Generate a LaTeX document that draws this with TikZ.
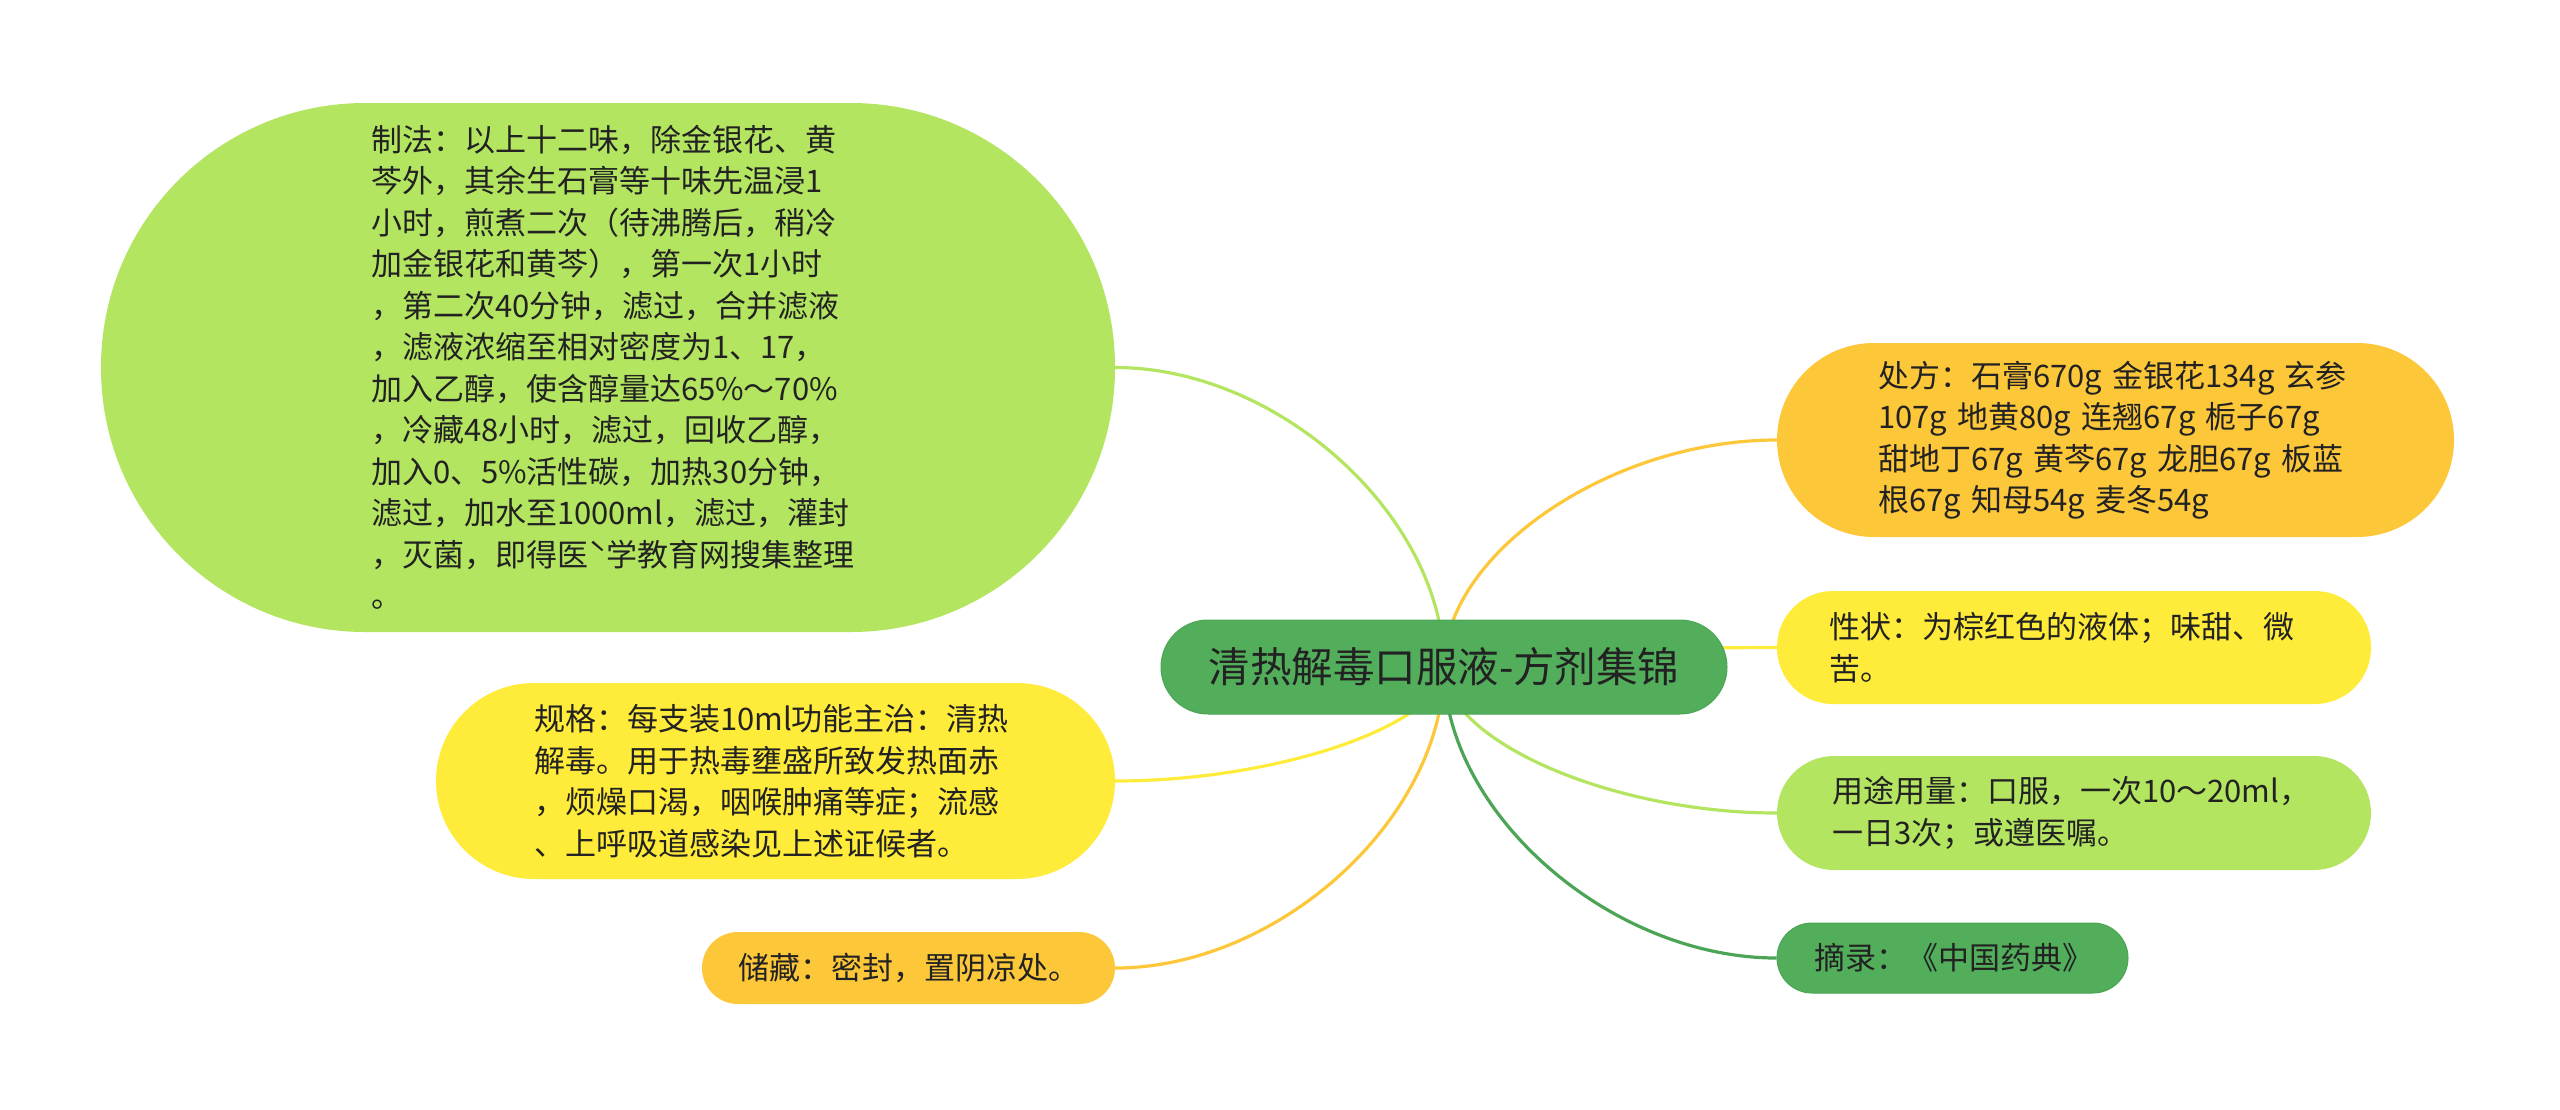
\documentclass[tikz,border=0pt]{standalone}
\usepackage{fontspec}
\setmainfont{Noto Sans CJK SC}
\usetikzlibrary{calc,backgrounds}
\definecolor{cgreen}{HTML}{52AE5B}
\definecolor{dgreen}{HTML}{4CA556}
\definecolor{lgreen}{HTML}{B3E561}
\definecolor{orng}{HTML}{FDC73A}
\definecolor{yllw}{HTML}{FFEB3A}
\definecolor{txt}{HTML}{222222}
\newcommand\mylink[3]{%
  \coordinate (p0) at (ctr.center);
  \coordinate (p3) at (#2.#3);
  \coordinate (pk) at (p0|-p3);
  \draw[conn=#1] (p0) .. controls ($(p0)!0.5!(pk)$) and ($(p3)!0.5!(pk)$) .. (p3);}
\begin{document}
\begin{tikzpicture}[x=1pt,y=-1pt,
  box/.style={rectangle, rounded corners=#1, text=txt, align=left, inner ysep=0pt,
    font=\fontsize{31}{41.5}\selectfont},
  conn/.style={draw=#1, line width=3.2pt},
]
\useasboundingbox (0,0) rectangle (2560,1109);

\node[box=47pt, fill=cgreen, draw=dgreen, line width=1pt, minimum width=566pt, minimum height=94pt,
  align=center, font=\fontsize{41.5}{41.5}\selectfont] (ctr) at (1444,667) {清热解毒口服液-方剂集锦};

\node[box=264pt, fill=lgreen, minimum width=1014pt, minimum height=529pt,
  inner xsep=270pt, text width=474pt] (zf) at (608,367.5)
  {制法：以上十二味，除金银花、黄\\芩外，其余生石膏等十味先温浸1\\小时，煎煮二次（待沸腾后，稍冷\\加金银花和黄芩），第一次1小时\\，第二次40分钟，滤过，合并滤液\\，滤液浓缩至相对密度为1、17，\\加入乙醇，使含醇量达65\%～70\%\\，冷藏48小时，滤过，回收乙醇，\\加入0、5\%活性碳，加热30分钟，\\滤过，加水至1000ml，滤过，灌封\\，灭菌，即得医ˋ学教育网搜集整理\\。};

\node[box=98pt, fill=yllw, minimum width=679pt, minimum height=196pt,
  inner xsep=98pt, text width=483pt] (gg) at (775.5,781)
  {规格：每支装10ml功能主治：清热\\解毒。用于热毒壅盛所致发热面赤\\，烦燥口渴，咽喉肿痛等症；流感\\、上呼吸道感染见上述证候者。};

\node[box=36pt, fill=orng, minimum width=413pt, minimum height=72pt,
  inner xsep=36pt, text width=341pt] (cc) at (908.5,968)
  {储藏：密封，置阴凉处。};

\node[box=97pt, fill=orng, minimum width=677pt, minimum height=194pt,
  inner xsep=101pt, text width=475pt] (cf) at (2115.5,440)
  {处方：石膏670g~金银花134g~玄参\\107g~地黄80g~连翘67g~栀子67g\\甜地丁67g~黄芩67g~龙胆67g~板蓝\\根67g~知母54g~麦冬54g};

\node[box=56pt, fill=yllw, minimum width=594pt, minimum height=113pt,
  inner xsep=52pt, text width=490pt] (xz) at (2074,647.5)
  {性状：为棕红色的液体；味甜、微\\苦。};

\node[box=57pt, fill=lgreen, minimum width=594pt, minimum height=114pt,
  inner xsep=55pt, text width=484pt] (yt) at (2074,813)
  {用途用量：口服，一次10～20ml，\\一日3次；或遵医嘱。};

\node[box=35pt, fill=cgreen, draw=dgreen, line width=1pt, minimum width=351pt, minimum height=70pt,
  inner xsep=37pt, text width=277pt] (zl) at (1952.5,958)
  {摘录：《中国药典》};

\begin{scope}[on background layer]
  \mylink{lgreen}{zf}{east}
  \mylink{yllw}{gg}{east}
  \mylink{orng}{cc}{east}
  \mylink{orng}{cf}{west}
  \mylink{yllw}{xz}{west}
  \mylink{lgreen}{yt}{west}
  \mylink{dgreen}{zl}{west}
\end{scope}
\end{tikzpicture}
\end{document}
